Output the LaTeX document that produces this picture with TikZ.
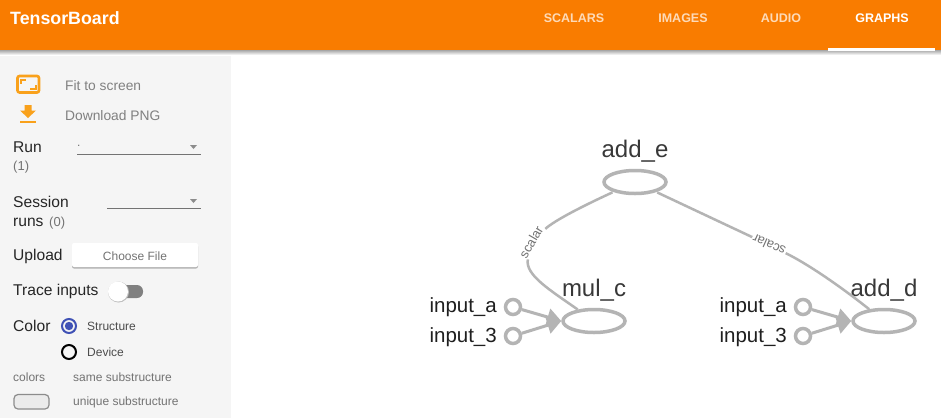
\documentclass[tikz,border=0pt]{standalone}
\usepackage{fontspec}
\setmainfont{Liberation Sans}
\usetikzlibrary{arrows.meta,shapes.geometric}
\definecolor{tbOrange}{HTML}{F97C00}
\definecolor{tbIcon}{HTML}{F9A11B}
\definecolor{tbPanel}{HTML}{F5F5F5}
\definecolor{tbEdge}{HTML}{B4B4B4}
\definecolor{tbBlue}{HTML}{3F51B5}
\newcommand{\fsz}[1]{\fontsize{#1}{#1}\selectfont}
\tikzset{
  tab/.style={anchor=center,font=\fsz{12.5}\bfseries,text=white!100!tbOrange,opacity=.72,text opacity=.72,inner sep=0pt},
  side/.style={anchor=west,font=\fsz{15.6},text=black!85,inner sep=0pt},
  muted/.style={anchor=west,font=\fsz{13.8},text=black!50,inner sep=0pt},
  small/.style={anchor=west,font=\fsz{12},text=black!55,inner sep=0pt},
  opnode/.style={ellipse,draw=tbEdge,line width=3.5pt,minimum width=62pt,minimum height=23pt,inner sep=0pt},
  innode/.style={circle,draw=tbEdge,line width=3.5pt,minimum size=15pt,inner sep=0pt},
  oplabel/.style={font=\fsz{24},text=black!78,inner sep=0pt},
  inlabel/.style={anchor=east,font=\fsz{20.5},text=black!88,inner sep=0pt},
  edgelabel/.style={font=\fsz{13},text=black!55,inner sep=1pt},
  edgeline/.style={draw=tbEdge,line width=2.5pt},
  inedge/.style={draw=tbEdge,line width=3pt,-{Triangle[length=14pt,width=17pt]}},
}
\begin{document}
\begin{tikzpicture}[x=1pt,y=-1pt]
  \useasboundingbox (0,0) rectangle (941,418);
  % panels
  \fill[white] (0,0) rectangle (941,418);
  \fill[tbPanel] (0,50) rectangle (231,418);
  \shade[top color=black!35,bottom color=white] (0,50) rectangle (941,55);
  \fill[tbOrange] (0,0) rectangle (941,50);
  \fill[white] (828,48) rectangle (935,50.5);
  % header
  \node[anchor=west,font=\fsz{17.8}\bfseries,text=white,inner sep=0pt] (title) at (10,18) {TensorBoard};
  \node[tab] (scalars) at (574,18) {SCALARS};
  \node[tab] (images) at (683,18) {IMAGES};
  \node[tab] (audio) at (781,18) {AUDIO};
  \node[tab,opacity=1,text opacity=1] (graphs) at (882,18) {GRAPHS};
  % icons
  \draw[tbIcon,line width=2.6pt,rounded corners=2pt] (17.5,76) rectangle (39,92.5);
  \draw[tbIcon,line width=2pt] (21,83.5) -- (21,80) -- (26,80);
  \draw[tbIcon,line width=2pt] (30,88.5) -- (35.5,88.5) -- (35.5,85);
  \fill[tbIcon] (24.5,105) -- (31.5,105) -- (31.5,110.5) -- (36,110.5) -- (28,118) -- (20,110.5) -- (24.5,110.5) -- cycle;
  \fill[tbIcon] (20,120.5) rectangle (36,122.5);
  \node[muted] (fit) at (65,86) {Fit to screen};
  \node[muted] (png) at (65,116) {Download PNG};
  % run selectors
  \node[side] (run) at (13,147) {Run};
  \node[small,font=\fsz{13}] (runcount) at (13,167) {(1)};
  \node[small] (rundot) at (77,146) {.};
  \node[side] (session) at (13,201.5) {Session};
  \node[side,anchor=base west] (runs) at (13,226) {runs};
  \node[small,font=\fsz{13},anchor=base west] (runscount) at (49,226) {(0)};
  \draw[black!55,line width=1pt] (77,154.5) -- (201,154.5);
  \draw[black!55,line width=1pt] (107,208.5) -- (201,208.5);
  \fill[black!45] (190,145) -- (197,145) -- (193.5,149) -- cycle;
  \fill[black!45] (190,199) -- (197,199) -- (193.5,203) -- cycle;
  % upload
  \node[side] (upload) at (13,256) {Upload};
  \fill[black!30,rounded corners=2pt] (72,244.5) rectangle (198,268.5);
  \fill[white,rounded corners=2pt] (72,243) rectangle (198,267);
  \node[anchor=center,font=\fsz{12},text=black!55,inner sep=0pt] (choose) at (135,256) {Choose File};
  % toggle
  \node[side] (trace) at (13,291) {Trace inputs};
  \fill[black!50,rounded corners=6pt] (110,285) rectangle (143,298);
  \fill[black!25] (118.5,292) circle (10.5);
  \fill[white] (118,291.5) circle (10);
  % colour
  \node[side] (color) at (13,326) {Color};
  \draw[tbBlue,line width=2pt] (69,326) circle (7);
  \fill[tbBlue] (69,326) circle (4.2);
  \draw[black,line width=2pt] (69,352) circle (7);
  \node[small,text=black!70] (structure) at (87,326) {Structure};
  \node[small,text=black!70] (device) at (87,352) {Device};
  \node[small] (colors) at (13,377) {colors};
  \node[small] (same) at (73,377) {same substructure};
  \draw[black!45,fill=black!8,line width=1.2pt,rounded corners=4pt] (14,394.5) rectangle (49,409);
  \node[small] (unique) at (73,402) {unique substructure};
  % graph
  \node[opnode] (adde) at (635,182) {};
  \node[opnode] (mulc) at (594,321) {};
  \node[opnode] (addd) at (884,321) {};
  \node[oplabel] (addetext) at (635,151) {add\_e};
  \node[oplabel] (mulctext) at (594,290) {mul\_c};
  \node[oplabel] (adddtext) at (884,290) {add\_d};
  \node[innode] (ina) at (513,307) {};
  \node[innode] (inb) at (513,336) {};
  \node[innode] (inc) at (803,307) {};
  \node[innode] (ind) at (803,336) {};
  \node[inlabel] (inatext) at (497,307.5) {input\_a};
  \node[inlabel] (inbtext) at (497,337) {input\_3};
  \node[inlabel] (inctext) at (787,307.5) {input\_a};
  \node[inlabel] (indtext) at (787,337) {input\_3};
  \node[edgelabel,rotate=60] (scalarl) at (531,242) {scalar};
  \node[edgelabel,rotate=156] (scalarr) at (769,245) {scalar};
  \draw[edgeline,shorten <=1pt] (adde) .. controls (585,205) and (555,220) .. (scalarl);
  \draw[edgeline] (scalarl) .. controls (525,275) and (550,290) .. (mulc);
  \draw[edgeline,shorten <=1pt] (adde) -- (scalarr);
  \draw[edgeline] (scalarr) .. controls (810,265) and (845,290) .. (addd);
  \draw[inedge] (ina) -- (mulc.west);
  \draw[inedge] (inb) -- (mulc.west);
  \draw[inedge] (inc) -- (addd.west);
  \draw[inedge] (ind) -- (addd.west);
\end{tikzpicture}
\end{document}
